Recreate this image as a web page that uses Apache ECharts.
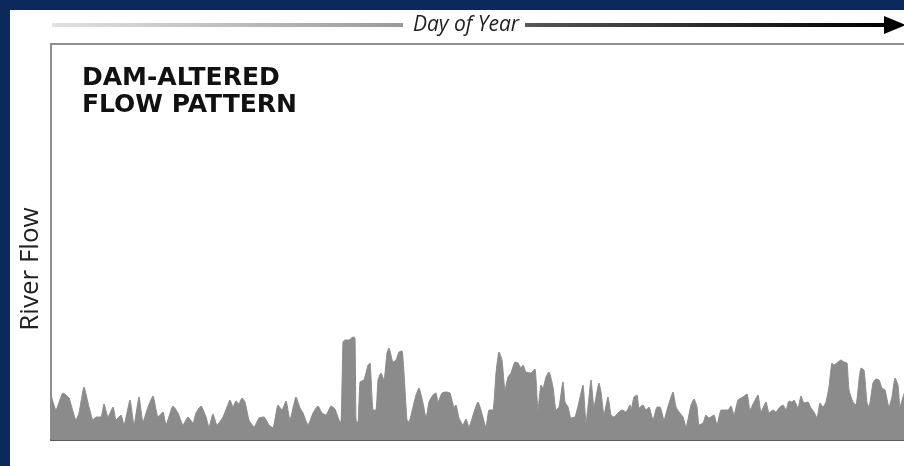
<!DOCTYPE html>
<html><head><meta charset="utf-8">
<script src="https://cdn.jsdelivr.net/npm/echarts@6.0.0/dist/echarts.min.js"></script>
<style>html,body{margin:0;padding:0;background:#fff}#c{width:904px;height:466px}</style>
</head><body><div id="c"></div>
<script>
// position along the year (arbitrary day units, 0 = start of year) and relative river flow
const dayPos = [
  0,5,12,18,25,28,33,38,42,45,50,53,57,62,65,70,73,79,83,88,92,97,102,107,112,115,122,127,132,137,142,
  145,150,155,158,162,166,172,176,179,182,185,188,191,194,198,203,208,213,218,222,227,231,235,239,245,249,252,257,262,267,271,275,280,284,288,
  290,292,294,298,302,304,305,307,309,313,317,319,322,325,327,330,333,336,338,342,345,348,351,353,356,358,362,365,368,372,375,378,382,385,387,391,395,399,403,405,408,412,415,418,423,427,430,434,
  435,438,442,445,448,451,454,457,460,464,467,470,472,475,480,484,487,490,492,495,498,502,505,508,512,514,517,520,524,528,532,535,538,540,543,548,550,553,557,560,563,567,571,575,579,
  580,583,586,588,592,595,598,602,606,609,613,616,619,622,625,628,632,635,640,643,646,648,652,655,658,663,666,670,673,677,680,683,687,692,696,699,703,707,710,715,718,722,
  725,728,732,735,738,741,743,747,750,753,757,760,763,766,769,772,775,778,781,783,787,790,793,796,798,802,805,808,810,813,816,818,822,825,828,831,834,838,841,844,847,849,852,854,862
];
const riverFlow = [
  45,30,47,42,20,27,53,33,20,23,23,36,23,33,20,25,15,40,15,43,18,33,44,23,28,15,34,27,15,23,17,
  27,34,23,13,26,15,23,33,40,33,39,36,42,38,20,13,22,23,15,12,35,30,39,20,43,32,27,15,27,34,27,25,34,31,20,
  17,98,100,100,103,102,20,17,58,60,75,77,30,30,60,67,60,87,92,78,80,88,89,67,20,18,33,45,52,37,22,38,45,47,38,47,48,47,33,35,22,15,21,13,28,38,30,15,
  13,30,30,67,88,80,50,63,67,78,77,72,75,68,67,71,30,55,52,63,68,53,30,33,58,38,33,22,23,38,55,17,43,60,33,57,48,25,43,25,23,27,30,28,35,
  30,43,45,32,35,30,33,20,33,33,20,30,40,48,33,28,23,13,35,41,33,15,17,25,22,25,15,30,30,30,34,25,40,43,46,30,38,45,28,38,27,30,
  28,32,35,30,39,38,40,32,44,37,38,32,28,22,37,33,38,53,77,75,78,80,78,77,50,38,35,60,72,70,37,33,57,61,60,52,50,33,43,62,55,33,43,48,45
];
const titleLines = ['DAM-ALTERED', 'FLOW PATTERN'];
const xAxisName = 'Day of Year';
const yAxisName = 'River Flow';

const chart = echarts.init(document.getElementById('c'), null, {renderer: 'canvas'});
const navy = '#0b2a5b';
chart.setOption({
  animation: false,
  backgroundColor: '#ffffff',
  grid: {left: 51, right: 0, top: 44, bottom: 26, show: false},
  xAxis: {type: 'value', min: 0, max: 853,
    axisLine: {show: true, lineStyle: {color: '#5a5a5a', width: 2}},
    axisTick: {show: false}, axisLabel: {show: false}, splitLine: {show: false}},
  yAxis: {type: 'value', min: 0, max: 396,
    axisLine: {show: true, lineStyle: {color: '#8e8e8e', width: 2}},
    axisTick: {show: false}, axisLabel: {show: false}, splitLine: {show: false}},
  series: [{
    type: 'line',
    data: dayPos.map((d, i) => [d, riverFlow[i]]),
    showSymbol: false,
    smooth: 0.15,
    clip: true,
    lineStyle: {color: '#8b8b8b', width: 1},
    areaStyle: {color: '#8b8b8b', opacity: 1}
  }],
  graphic: [
    {type: 'line', z: 10, shape: {x1: 50, y1: 44, x2: 904, y2: 44}, style: {stroke: '#8e8e8e', lineWidth: 2}},
    {type: 'rect', z: 10, shape: {x: 52, y: 23, width: 836, height: 4},
      style: {fill: new echarts.graphic.LinearGradient(52, 0, 888, 0, [
        {offset: 0, color: '#e2e2e2'}, {offset: 0.42, color: '#9a9a9a'},
        {offset: 0.57, color: '#555555'}, {offset: 1, color: '#000000'}], true)}},
    {type: 'rect', z: 11, shape: {x: 403, y: 12, width: 122, height: 28}, style: {fill: '#ffffff'}},
    {type: 'text', z: 12, x: 466, y: 25,
      style: {text: xAxisName, font: 'italic 21px "Open Sans"', fill: '#222222', textAlign: 'center', textVerticalAlign: 'middle'}},
    {type: 'polygon', z: 12, shape: {points: [[884, 16], [906, 25], [884, 34]]}, style: {fill: '#000000'}},
    {type: 'text', z: 12, x: 31, y: 269, rotation: Math.PI / 2,
      style: {text: yAxisName, font: '26px "Open Sans"', fill: '#222222', textAlign: 'center', textVerticalAlign: 'middle'}},
    {type: 'text', z: 12, x: 82, y: 65,
      style: {text: titleLines.join('\n'), font: 'bold 25px "DejaVu Sans"', lineHeight: 27, fill: '#111111', textAlign: 'left', textVerticalAlign: 'top'}},
    {type: 'rect', z: 20, shape: {x: 0, y: 0, width: 904, height: 10}, style: {fill: navy}},
    {type: 'rect', z: 20, shape: {x: 0, y: 0, width: 10, height: 466}, style: {fill: navy}}
  ]
});
</script>
</body></html>
